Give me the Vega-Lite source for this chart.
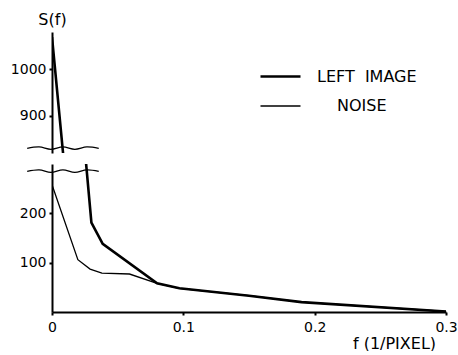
{
  "$schema": "https://vega.github.io/schema/vega-lite/v6.json",
  "autosize": {"type": "pad"},
  "padding": {"left": 10, "top": 11, "right": 0, "bottom": 0},
  "background": "white",
  "bounds": "flush",
  "spacing": 11,
  "config": {
    "view": {"stroke": null},
    "font": "DejaVu Sans",
    "axis": {
      "domainColor": "black", "domainWidth": 2,
      "tickColor": "black", "tickWidth": 2, "tickSize": 3,
      "labelColor": "black", "labelFontSize": 14, "labelFont": "DejaVu Sans",
      "titleColor": "black", "titleFont": "DejaVu Sans", "titleFontSize": 16, "titleFontWeight": "normal",
      "grid": false
    },
    "legend": {"labelFont": "DejaVu Sans", "labelFontSize": 16, "labelColor": "black"}
  },
  "datasets": {
    "lines": [
      {"series": "LEFT IMAGE", "f": 0, "s": 1069},
      {"series": "LEFT IMAGE", "f": 0.030, "s": 181},
      {"series": "LEFT IMAGE", "f": 0.0386, "s": 138},
      {"series": "LEFT IMAGE", "f": 0.080, "s": 58},
      {"series": "LEFT IMAGE", "f": 0.097, "s": 48},
      {"series": "LEFT IMAGE", "f": 0.15, "s": 33},
      {"series": "LEFT IMAGE", "f": 0.19, "s": 20},
      {"series": "LEFT IMAGE", "f": 0.3, "s": 1},
      {"series": "NOISE", "f": 0, "s": 258},
      {"series": "NOISE", "f": 0.0197, "s": 106},
      {"series": "NOISE", "f": 0.029, "s": 87},
      {"series": "NOISE", "f": 0.038, "s": 79},
      {"series": "NOISE", "f": 0.059, "s": 77},
      {"series": "NOISE", "f": 0.080, "s": 58},
      {"series": "NOISE", "f": 0.097, "s": 48},
      {"series": "NOISE", "f": 0.15, "s": 33},
      {"series": "NOISE", "f": 0.19, "s": 20},
      {"series": "NOISE", "f": 0.3, "s": 1}
    ],
    "upperBreak": [
      {"f": -0.0189, "s": 830},
      {"f": -0.0098, "s": 833},
      {"f": -0.0008, "s": 828},
      {"f": 0.0083, "s": 833},
      {"f": 0.0174, "s": 828},
      {"f": 0.0265, "s": 833},
      {"f": 0.0356, "s": 830}
    ],
    "lowerBreak": [
      {"f": -0.0189, "s": 285},
      {"f": -0.0098, "s": 288},
      {"f": -0.0008, "s": 283},
      {"f": 0.0083, "s": 288},
      {"f": 0.0174, "s": 283},
      {"f": 0.0265, "s": 288},
      {"f": 0.0356, "s": 285}
    ]
  },
  "vconcat": [
    {
      "width": 394,
      "height": 121,
      "layer": [
        {
          "data": {"name": "lines"},
          "mark": {"type": "line", "clip": true, "color": "black"},
          "encoding": {
            "x": {"field": "f", "type": "quantitative", "scale": {"domain": [0, 0.3]}, "axis": null},
            "y": {"field": "s", "type": "quantitative", "scale": {"domain": [830, 1068]},
                  "axis": {"values": [900, 1000], "format": "d", "title": "S(f)", "titleAngle": 0, "titleAlign": "center", "titleBaseline": "alphabetic", "titleX": 0, "titleY": -8, "labelPadding": 3}},
            "strokeWidth": {"field": "series", "type": "ordinal",
                            "scale": {"domain": ["LEFT IMAGE", "NOISE"], "range": [2.6, 1.3]},
                            "legend": {"title": null, "orient": "none", "legendX": 207, "legendY": 23, "symbolType": "stroke", "symbolSize": 1600, "symbolStrokeColor": "black", "rowPadding": -2, "labelOffset": 15,
                                       "labelExpr": "datum.label == 'NOISE' ? 'NOISE' : 'LEFT\u00a0\u00a0IMAGE'",
                                       "encode": {"labels": {"update": {"dx": {"signal": "datum.value == 'NOISE' ? 20 : 0"}}}}}},
            "detail": {"field": "series"}
          }
        },
        {
          "data": {"name": "upperBreak"},
          "mark": {"type": "line", "clip": false, "color": "black", "strokeWidth": 1.3, "interpolate": "cardinal"},
          "encoding": {
            "x": {"field": "f", "type": "quantitative"},
            "y": {"field": "s", "type": "quantitative"}
          }
        }
      ]
    },
    {
      "width": 394,
      "height": 148,
      "layer": [
        {
          "data": {"name": "lines"},
          "mark": {"type": "line", "clip": true, "color": "black"},
          "encoding": {
            "x": {"field": "f", "type": "quantitative", "scale": {"domain": [0, 0.3]},
                  "axis": {"values": [0, 0.1, 0.2, 0.3], "format": "~g", "title": "f (1/PIXEL)", "titleAlign": "center", "titleBaseline": "alphabetic", "titleX": 342, "titleY": 36, "labelPadding": 5, "labelFlush": false}},
            "y": {"field": "s", "type": "quantitative", "scale": {"domain": [0, 285]},
                  "axis": {"values": [100, 200], "format": "d", "title": null, "labelPadding": 3}},
            "strokeWidth": {"field": "series", "type": "ordinal",
                            "scale": {"domain": ["LEFT IMAGE", "NOISE"], "range": [2.6, 1.3]}, "legend": null},
            "detail": {"field": "series"}
          }
        },
        {
          "data": {"name": "lowerBreak"},
          "mark": {"type": "line", "clip": false, "color": "black", "strokeWidth": 1.3, "interpolate": "cardinal"},
          "encoding": {
            "x": {"field": "f", "type": "quantitative"},
            "y": {"field": "s", "type": "quantitative"}
          }
        }
      ]
    }
  ]
}
